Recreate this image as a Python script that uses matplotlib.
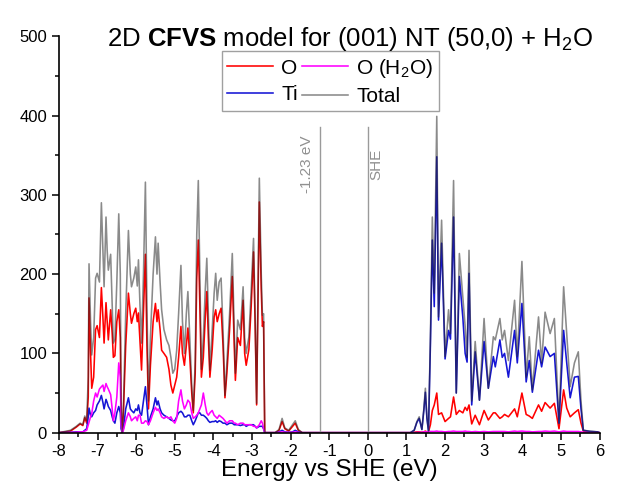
import numpy as np
import matplotlib.pyplot as plt
from matplotlib.ticker import MultipleLocator

plt.rcParams["font.family"] = ["Liberation Sans", "DejaVu Sans"]
plt.rcParams["mathtext.fontset"] = "custom"
plt.rcParams["mathtext.rm"] = "Liberation Sans"
plt.rcParams["mathtext.bf"] = "Liberation Sans:bold"
plt.rcParams["axes.unicode_minus"] = False

# energy grid (eV vs SHE) and projected DOS
energy = [
    -8.00, -7.70, -7.55, -7.45, -7.38, -7.33, -7.28, -7.24, -7.22, -7.18,
    -7.15, -7.10, -7.05, -7.01, -6.95, -6.90, -6.86, -6.83, -6.78, -6.75,
    -6.72, -6.66, -6.62, -6.59, -6.55, -6.50, -6.45, -6.41, -6.39, -6.36,
    -6.33, -6.27, -6.20, -6.15, -6.12, -6.06, -6.01, -5.97, -5.94, -5.90,
    -5.86, -5.81, -5.76, -5.72, -5.68, -5.63, -5.56, -5.50, -5.46, -5.43,
    -5.38, -5.34, -5.28, -5.21, -5.15, -5.10, -5.05, -5.00, -4.95, -4.90,
    -4.84, -4.80, -4.75, -4.70, -4.66, -4.61, -4.56, -4.52, -4.47, -4.43,
    -4.39, -4.35, -4.31, -4.26, -4.21, -4.17, -4.13, -4.09, -4.03, -3.98,
    -3.94, -3.90, -3.85, -3.80, -3.75, -3.70, -3.65, -3.58, -3.51, -3.46,
    -3.43, -3.37, -3.30, -3.23, -3.19, -3.15, -3.08, -3.02, -2.96, -2.92,
    -2.88, -2.81, -2.76, -2.73, -2.70, -2.67, -2.40, -2.30, -2.22, -2.15,
    -2.05, -1.95, -1.88, -1.80, -1.70, 1.10, 1.20, 1.27, 1.33, 1.40,
    1.45, 1.49, 1.53, 1.57, 1.62, 1.67, 1.72, 1.785, 1.83, 1.91,
    2.00, 2.09, 2.14, 2.22, 2.29, 2.37, 2.46, 2.52, 2.57, 2.62,
    2.69, 2.78, 2.89, 3.01, 3.12, 3.25, 3.30, 3.42, 3.48, 3.54,
    3.64, 3.80, 3.87, 3.99, 4.10, 4.18, 4.26, 4.42, 4.50, 4.59,
    4.72, 4.83, 4.95, 5.07, 5.15, 5.24, 5.35, 5.45, 5.52, 5.58,
    5.75, 5.95, 6.00,
]

dos_total = [
    0, 3, 8, 12, 10, 21, 15, 70, 213, 140,
    98, 120, 195, 201, 190, 290, 230, 184, 272, 230,
    205, 225, 160, 113, 118, 190, 276, 200, 40, 0,
    30, 150, 255, 200, 184, 195, 209, 185, 218, 160,
    113, 200, 316, 160, 40, 121, 200, 247, 200, 239,
    190, 155, 130, 117, 110, 95, 75, 80, 104, 150,
    211, 140, 100, 150, 178, 120, 60, 28, 90, 250,
    318, 200, 80, 120, 180, 220, 150, 79, 130, 176,
    201, 167, 190, 195, 130, 47, 88, 150, 226, 130,
    75, 142, 130, 184, 120, 100, 121, 180, 245, 150,
    37, 321, 200, 148, 150, 0, 0, 4, 18, 6,
    3, 10, 15, 4, 0, 0, 3, 14, 20, 4,
    30, 56, 20, 2, 120, 272, 176, 399, 146, 268,
    96, 155, 125, 318, 50, 226, 171, 134, 95, 230,
    40, 115, 41, 144, 56, 121, 117, 144, 117, 129,
    91, 167, 96, 216, 70, 121, 54, 146, 88, 152,
    125, 144, 12, 184, 125, 58, 88, 102, 40, 3,
    2, 1, 0,
]

dos_o = [
    0, 2, 7, 11, 9, 19, 12, 45, 170, 100,
    56, 70, 130, 135, 120, 183, 145, 113, 164, 140,
    117, 155, 125, 95, 97, 140, 155, 120, 30, 0,
    25, 110, 176, 150, 138, 150, 157, 140, 151, 115,
    79, 150, 225, 110, 30, 85, 140, 163, 140, 155,
    130, 104, 100, 95, 80, 60, 50, 60, 70, 95,
    134, 100, 85, 110, 132, 95, 50, 25, 75, 195,
    243, 160, 70, 95, 145, 178, 120, 70, 105, 146,
    155, 140, 150, 157, 110, 44, 75, 130, 197, 110,
    66, 120, 110, 167, 100, 85, 105, 160, 228, 140,
    35, 291, 180, 134, 140, 0, 0, 3, 14, 5,
    2, 8, 12, 3, 0, 0, 0.5, 1, 1, 0.5,
    1, 2, 1, 1, 10, 28, 35, 50, 23, 25,
    14, 18, 20, 45, 23, 28, 25, 32, 28, 35,
    11, 22, 10, 28, 16, 25, 25, 18, 20, 23,
    20, 30, 20, 50, 23, 21, 18, 35, 27, 38,
    31, 37, 5, 54, 31, 20, 25, 29, 12, 2,
    0.5, 0, 0,
]

dos_o_h2o = [
    0, 0.3, 0.5, 1, 1, 2, 3, 10, 14, 20,
    24, 40, 50, 45, 55, 58, 60, 52, 62, 58,
    55, 48, 30, 15, 25, 45, 88, 70, 10, 0,
    3, 15, 25, 20, 15, 18, 20, 15, 22, 22,
    12, 12, 15, 14, 10, 15, 25, 32, 28, 30,
    25, 20, 18, 20, 18, 20, 15, 12, 18, 40,
    54, 40, 30, 35, 41, 38, 25, 18, 20, 22,
    25, 30, 35, 50, 35, 25, 22, 25, 28, 22,
    20, 18, 22, 20, 18, 15, 12, 15, 15, 12,
    12, 10, 12, 12, 10, 10, 10, 10, 8, 8,
    6, 10, 15, 12, 5, 0, 0, 0.5, 1, 0.5,
    0.3, 0.5, 1, 0.3, 0, 0, 0, 0.3, 0.5, 0.5,
    1, 1, 1, 1, 1.5, 1.5, 1.5, 2, 1.5, 1.5,
    1, 1.5, 1.5, 2, 1.5, 1.5, 1.5, 2, 1.5, 1.5,
    1, 1.5, 1, 1.5, 1, 1.5, 1.5, 1.5, 1.5, 1.5,
    1, 2, 1.5, 2, 1.5, 1.5, 1, 1.5, 1.5, 2,
    1.5, 2, 1, 2, 1.5, 1.5, 1.5, 1.5, 1, 0.5,
    0, 0, 0,
]

dos_ti = [
    0, 0.5, 1, 1, 1, 3, 5, 20, 31, 22,
    20, 25, 28, 35, 40, 47, 38, 30, 42, 38,
    33, 28, 20, 15, 12, 25, 33, 25, 5, 0,
    5, 30, 44, 30, 28, 25, 30, 28, 35, 25,
    22, 40, 58, 35, 10, 20, 30, 44, 35, 40,
    30, 25, 22, 20, 18, 16, 15, 15, 20, 25,
    27, 25, 20, 20, 22, 22, 15, 10, 15, 20,
    25, 25, 22, 22, 20, 18, 15, 13, 14, 14,
    15, 13, 15, 14, 12, 12, 10, 12, 12, 10,
    10, 10, 9, 10, 10, 8, 10, 10, 10, 8,
    6, 8, 8, 8, 5, 0, 0, 1, 3, 1,
    0.5, 1, 3, 1, 0, 0, 3, 13, 18, 4,
    28, 51, 18, 2, 110, 243, 159, 348, 142, 239,
    93, 129, 118, 272, 50, 197, 145, 100, 89, 201,
    35, 102, 41, 115, 56, 96, 83, 117, 95, 100,
    70, 129, 88, 163, 64, 91, 51, 104, 83, 108,
    96, 100, 12, 129, 88, 44, 70, 71, 30, 3,
    1.5, 1, 0,
]

fig, ax = plt.subplots(figsize=(6.2, 4.9), dpi=100)
fig.subplots_adjust(left=0.095, right=0.967, bottom=0.117, top=0.926)

lw = 1.15
ax.plot(energy, dos_o, color="#ff0000", lw=lw, label="O")
ax.plot(energy, dos_ti, color="#1515d5", lw=lw, label="Ti")
ax.plot(energy, dos_o_h2o, color="#ff00ff", lw=lw, label="O (H$_2$O)")
# semi-transparent dark line so overlaps darken like the original
ax.plot(energy, dos_total, color="#2a2a2a", alpha=0.55, lw=lw, label="Total")

# reference levels
for x0 in (-1.23, 0.0):
    ax.plot([x0, x0], [0, 386], color="#9a9a9a", lw=1.0)
ax.text(-1.23 - 0.34, 339, "-1.23 eV", rotation=90, ha="center", va="center",
        fontsize=11, color="#909090")
ax.text(0.0 + 0.22, 339, "SHE", rotation=90, ha="center", va="center",
        fontsize=11, color="#909090")

ax.set_xlim(-8, 6)
ax.set_ylim(0, 500)
ax.xaxis.set_major_locator(MultipleLocator(1))
ax.xaxis.set_minor_locator(MultipleLocator(0.5))
ax.yaxis.set_major_locator(MultipleLocator(100))
ax.yaxis.set_minor_locator(MultipleLocator(50))
ax.tick_params(which="major", direction="out", length=5, width=1.1, labelsize=12)
ax.tick_params(which="minor", direction="out", length=3, width=1.1)
ax.spines["top"].set_visible(False)
ax.spines["right"].set_visible(False)
for s in ("left", "bottom"):
    ax.spines[s].set_linewidth(1.2)

ax.set_xlabel("Energy vs SHE (eV)", fontsize=17.5, labelpad=0)

fig.text(0.564, 0.907, r"2D $\mathbf{CFVS}$ model for (001) NT (50,0) + H$_2$O",
         ha="center", va="baseline", fontsize=18.5)

leg = ax.legend(loc="upper center", bbox_to_anchor=(0.502, 0.962), ncol=2,
                fontsize=15, frameon=True, fancybox=False, framealpha=1,
                edgecolor="#a0a0a0", handlelength=2.2, columnspacing=0.2,
                handletextpad=0.4, borderpad=0.25, labelspacing=0.35,
                borderaxespad=0)
leg.get_frame().set_linewidth(1.0)

fig.savefig("out.png", dpi=100)
